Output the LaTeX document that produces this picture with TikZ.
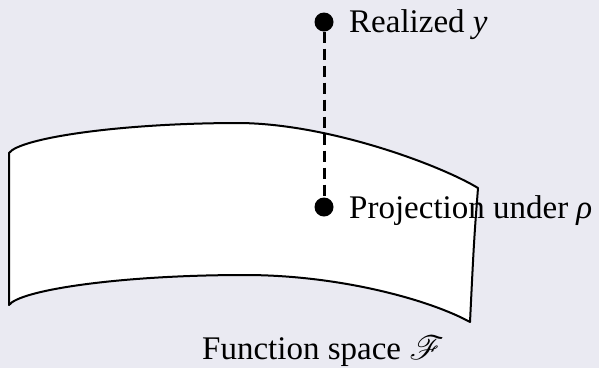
\documentclass[tikz,border=0pt]{standalone}
\usepackage{fontspec}
\setmainfont{Liberation Serif}
\usepackage{mathrsfs}
\usetikzlibrary{positioning}
\definecolor{panel}{HTML}{EAEAF2}
\newcommand{\sheetpath}{(9,153) .. controls (20,138) and (120,123) .. (240,123)
    .. controls (330,124) and (440,165) .. (478,188)
    .. controls (474,240) .. (470,322)
    .. controls (430,300) and (340,275) .. (245,275)
    .. controls (120,275) and (20,290) .. (9,305) -- cycle}

\begin{document}
\begin{tikzpicture}[x=1pt, y=-1pt,
    dot/.style={circle, fill=black, inner sep=0pt, minimum size=19pt},
    lbl/.style={anchor=base west, inner sep=0pt, font=\fontsize{33}{40}\selectfont},
    edge/.style={line width=2pt, line join=round}]
    \useasboundingbox[fill=panel] (0,0) rectangle (599,368);
    \fill[white] \sheetpath;

    \node[dot] (realized) at (324,22) {};
    \node[dot] (proj) at (324,207) {};
    \draw[line width=3pt, dash pattern=on 11pt off 6pt] (realized) -- (proj);

    \node[lbl] (realizedlbl) at (349,32) {Realized \textit{y}};
    \node[lbl] (projlbl) at (349,218) {Projection under \textit{ρ}};
    \node[lbl] (space) at (202,359) {Function space \scalebox{1.35}{$\mathscr{F}$}};

    \draw[edge] \sheetpath;
\end{tikzpicture}
\end{document}
